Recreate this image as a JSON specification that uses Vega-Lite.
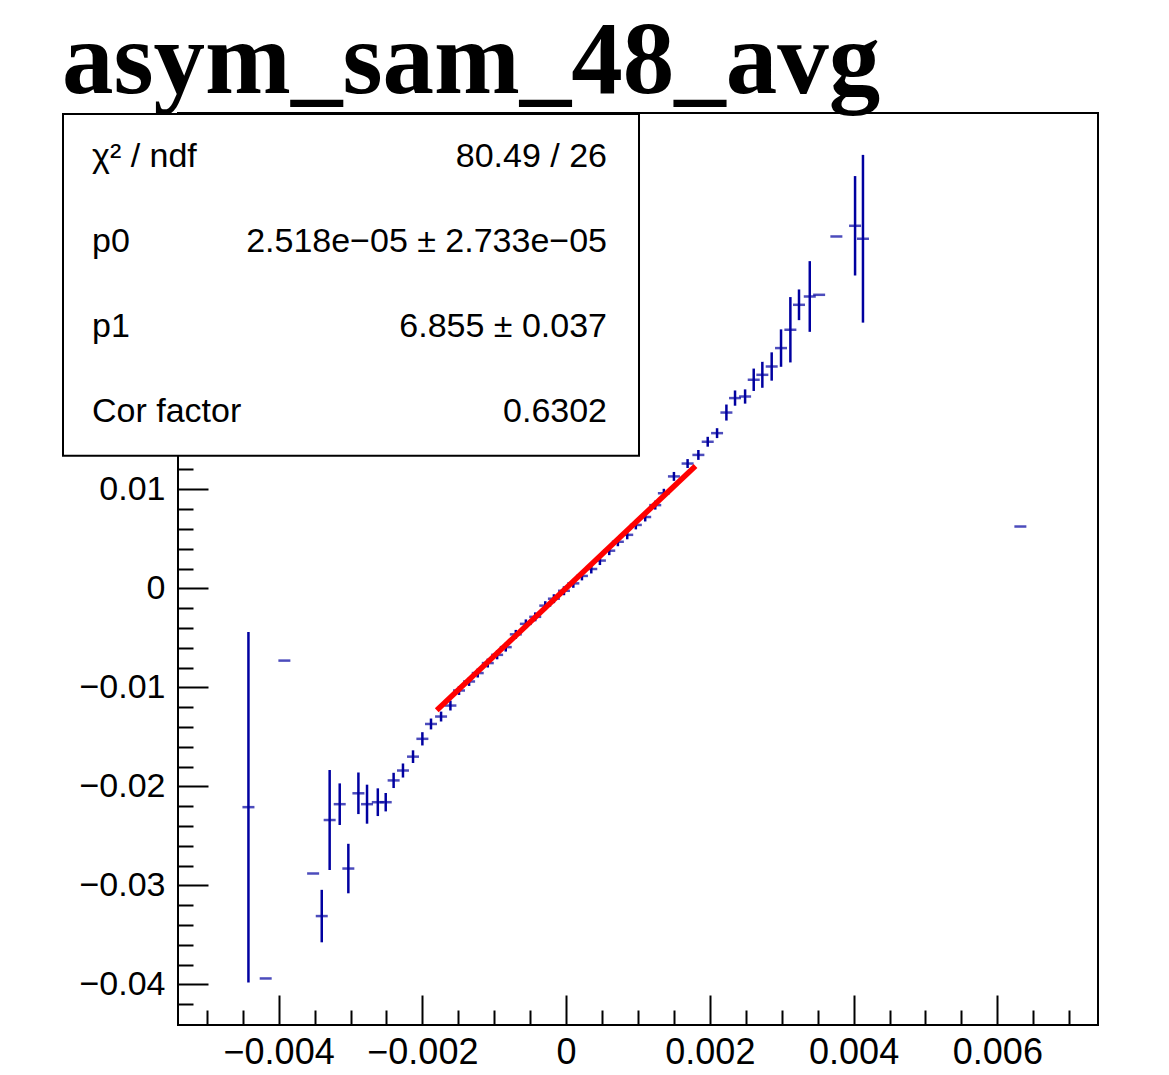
{
  "$schema": "https://vega.github.io/schema/vega-lite/v6.json",
  "width": 920,
  "height": 912,
  "autosize": {"type": "none"},
  "padding": {"left": 178, "top": 113, "right": 71, "bottom": 50},
  "background": "white",
  "config": {
    "view": {"stroke": "black", "strokeWidth": 2},
    "font": "Liberation Sans",
    "axis": {"grid": false, "domain": false, "title": null, "tickColor": "black", "tickWidth": 2, "labelColor": "black", "labelFont": "Liberation Sans", "labelFontSize": 34},
    "axisX": {"labelFontSize": 36}
  },
  "title": {"text": "asym_sam_48_avg", "font": "Liberation Serif", "fontSize": 103, "fontWeight": "bold", "anchor": "start", "frame": "bounds", "baseline": "alphabetic", "offset": 21, "dy": 104, "color": "black"},
  "datasets": {
    "points": [
      {"x": -0.00442, "y": -0.0221, "ey": 0.0177},
      {"x": -0.00418, "y": -0.0394, "ey": 0},
      {"x": -0.00392, "y": -0.0073, "ey": 0},
      {"x": -0.00352, "y": -0.0288, "ey": 0},
      {"x": -0.0034, "y": -0.0331, "ey": 0.00265},
      {"x": -0.00329, "y": -0.0234, "ey": 0.00505},
      {"x": -0.00315, "y": -0.0218, "ey": 0.0021},
      {"x": -0.00303, "y": -0.0283, "ey": 0.0025},
      {"x": -0.00289, "y": -0.0207, "ey": 0.0021},
      {"x": -0.00277, "y": -0.0218, "ey": 0.00197},
      {"x": -0.00262, "y": -0.0216, "ey": 0.0014},
      {"x": -0.00251, "y": -0.0216, "ey": 0.00093},
      {"x": -0.0024, "y": -0.0194, "ey": 0.00077},
      {"x": -0.00227, "y": -0.0184, "ey": 0.00071},
      {"x": -0.00213, "y": -0.017, "ey": 0.00064},
      {"x": -0.002, "y": -0.0152, "ey": 0.00067},
      {"x": -0.00188, "y": -0.0137, "ey": 0.00055},
      {"x": -0.00174, "y": -0.01295, "ey": 0.0005},
      {"x": -0.00161, "y": -0.01184, "ey": 0.0005},
      {"x": -0.00149, "y": -0.01032, "ey": 0.00045},
      {"x": -0.00135, "y": -0.00941, "ey": 0.00045},
      {"x": -0.00123, "y": -0.00856, "ey": 0.00045},
      {"x": -0.00109, "y": -0.00755, "ey": 0.00045},
      {"x": -0.00096, "y": -0.00672, "ey": 0.00045},
      {"x": -0.00084, "y": -0.00594, "ey": 0.00045},
      {"x": -0.0007, "y": -0.00465, "ey": 0.00045},
      {"x": -0.00056, "y": -0.00359, "ey": 0.00045},
      {"x": -0.00043, "y": -0.00288, "ey": 0.00045},
      {"x": -0.00029, "y": -0.00175, "ey": 0.00045},
      {"x": -0.00017, "y": -0.00105, "ey": 0.00045},
      {"x": -0.00003, "y": -0.00025, "ey": 0.00045},
      {"x": 0.0001, "y": 0.0005, "ey": 0.00045},
      {"x": 0.00022, "y": 0.00125, "ey": 0.00045},
      {"x": 0.00035, "y": 0.00195, "ey": 0.00045},
      {"x": 0.00047, "y": 0.0028, "ey": 0.00045},
      {"x": 0.0006, "y": 0.0038, "ey": 0.00045},
      {"x": 0.00072, "y": 0.0047, "ey": 0.00045},
      {"x": 0.00085, "y": 0.0054, "ey": 0.00045},
      {"x": 0.00097, "y": 0.0064, "ey": 0.00045},
      {"x": 0.0011, "y": 0.0072, "ey": 0.00045},
      {"x": 0.00124, "y": 0.0084, "ey": 0.00045},
      {"x": 0.00136, "y": 0.0096, "ey": 0.00045},
      {"x": 0.0015, "y": 0.0113, "ey": 0.00045},
      {"x": 0.00169, "y": 0.0126, "ey": 0.00045},
      {"x": 0.00184, "y": 0.01347, "ey": 0.0005},
      {"x": 0.00197, "y": 0.0148, "ey": 0.0005},
      {"x": 0.0021, "y": 0.01567, "ey": 0.0005},
      {"x": 0.00223, "y": 0.01775, "ey": 0.00081},
      {"x": 0.00235, "y": 0.01921, "ey": 0.00077},
      {"x": 0.00249, "y": 0.01937, "ey": 0.00072},
      {"x": 0.00261, "y": 0.02106, "ey": 0.00113},
      {"x": 0.00273, "y": 0.02156, "ey": 0.00131},
      {"x": 0.00286, "y": 0.0224, "ey": 0.00143},
      {"x": 0.00299, "y": 0.02426, "ey": 0.00189},
      {"x": 0.00312, "y": 0.02611, "ey": 0.0033},
      {"x": 0.00324, "y": 0.02863, "ey": 0.00155},
      {"x": 0.00339, "y": 0.02947, "ey": 0.00357},
      {"x": 0.00352, "y": 0.02964, "ey": 0},
      {"x": 0.00376, "y": 0.03553, "ey": 0},
      {"x": 0.00402, "y": 0.03661, "ey": 0.00502},
      {"x": 0.00413, "y": 0.0353, "ey": 0.00847},
      {"x": 0.00632, "y": 0.00624, "ey": 0}
    ],
    "fit": [
      {"x": -0.0018, "y": -0.01231},
      {"x": 0.0018, "y": 0.01236}
    ]
  },
  "resolve": {"axis": {"x": "independent", "y": "independent"}},
  "layer": [
    {
      "data": {"name": "points"},
      "mark": {"type": "errorbar", "color": "#0000a0", "thickness": 2.5},
      "encoding": {
        "x": {"field": "x", "type": "quantitative", "scale": {"domain": [-0.0054, 0.0074], "nice": false, "zero": false}, "axis": null},
        "y": {"field": "y", "type": "quantitative", "scale": {"domain": [-0.0441, 0.048], "nice": false, "zero": false}, "axis": null},
        "yError": {"field": "ey"}
      }
    },
    {
      "data": {"name": "points"},
      "mark": {"type": "tick", "orient": "horizontal", "size": 12, "thickness": 2.5, "color": "#0000a0"},
      "encoding": {
        "x": {"field": "x", "type": "quantitative", "scale": {"domain": [-0.0054, 0.0074], "nice": false, "zero": false},
              "axis": {"orient": "bottom", "values": [-0.004, -0.002, 0, 0.002, 0.004, 0.006], "format": ".3~f", "tickSize": -30, "labelPadding": 40}},
        "y": {"field": "y", "type": "quantitative", "scale": {"domain": [-0.0441, 0.048], "nice": false, "zero": false},
              "axis": {"orient": "left", "values": [-0.04, -0.03, -0.02, -0.01, 0, 0.01], "format": ".2~f", "tickSize": -30, "labelPadding": 43}}
      }
    },
    {
      "data": {"name": "fit"},
      "mark": {"type": "line", "color": "#ff0000", "strokeWidth": 5.5},
      "encoding": {
        "x": {"field": "x", "type": "quantitative", "scale": {"domain": [-0.0054, 0.0074], "nice": false, "zero": false},
              "axis": {"orient": "bottom", "values": [-0.005, -0.0045, -0.0035, -0.003, -0.0025, -0.0015, -0.001, -0.0005, 0.0005, 0.001, 0.0015, 0.0025, 0.003, 0.0035, 0.0045, 0.005, 0.0055, 0.0065, 0.007], "labels": false, "tickSize": -15}},
        "y": {"field": "y", "type": "quantitative", "scale": {"domain": [-0.0441, 0.048], "nice": false, "zero": false},
              "axis": {"orient": "left", "values": [-0.042, -0.038, -0.036, -0.034, -0.032, -0.028, -0.026, -0.024, -0.022, -0.018, -0.016, -0.014, -0.012, -0.008, -0.006, -0.004, -0.002, 0.002, 0.004, 0.006, 0.008, 0.012], "labels": false, "tickSize": -15}}
      }
    },
    {
      "data": {"values": [{}]},
      "mark": {"type": "rect", "fill": "white", "stroke": "black", "strokeWidth": 2},
      "encoding": {
        "x": {"datum": -0.007, "type": "quantitative", "axis": null},
        "x2": {"datum": 0.001014},
        "y": {"datum": 0.0479, "type": "quantitative", "axis": null},
        "y2": {"datum": 0.01338}
      }
    },
    {
      "data": {"values": [{"name": "χ² / ndf", "value": "80.49 / 26"}]},
      "encoding": {"y": {"datum": 0.04358, "type": "quantitative", "axis": null}},
      "layer": [
        {"mark": {"type": "text", "align": "left", "baseline": "middle", "fontSize": 34, "font": "Liberation Sans", "color": "black"},
         "encoding": {"x": {"datum": -0.006596, "type": "quantitative", "axis": null}, "text": {"field": "name"}}},
        {"mark": {"type": "text", "align": "right", "baseline": "middle", "fontSize": 34, "font": "Liberation Sans", "color": "black"},
         "encoding": {"x": {"datum": 0.000569, "type": "quantitative", "axis": null}, "text": {"field": "value"}}}
      ]
    },
    {
      "data": {"values": [{"name": "p0", "value": "2.518e−05 ± 2.733e−05"}]},
      "encoding": {"y": {"datum": 0.03499, "type": "quantitative", "axis": null}},
      "layer": [
        {"mark": {"type": "text", "align": "left", "baseline": "middle", "fontSize": 34, "font": "Liberation Sans", "color": "black"},
         "encoding": {"x": {"datum": -0.006596, "type": "quantitative", "axis": null}, "text": {"field": "name"}}},
        {"mark": {"type": "text", "align": "right", "baseline": "middle", "fontSize": 34, "font": "Liberation Sans", "color": "black"},
         "encoding": {"x": {"datum": 0.000569, "type": "quantitative", "axis": null}, "text": {"field": "value"}}}
      ]
    },
    {
      "data": {"values": [{"name": "p1", "value": "6.855 ± 0.037"}]},
      "encoding": {"y": {"datum": 0.02641, "type": "quantitative", "axis": null}},
      "layer": [
        {"mark": {"type": "text", "align": "left", "baseline": "middle", "fontSize": 34, "font": "Liberation Sans", "color": "black"},
         "encoding": {"x": {"datum": -0.006596, "type": "quantitative", "axis": null}, "text": {"field": "name"}}},
        {"mark": {"type": "text", "align": "right", "baseline": "middle", "fontSize": 34, "font": "Liberation Sans", "color": "black"},
         "encoding": {"x": {"datum": 0.000569, "type": "quantitative", "axis": null}, "text": {"field": "value"}}}
      ]
    },
    {
      "data": {"values": [{"name": "Cor factor", "value": "0.6302"}]},
      "encoding": {"y": {"datum": 0.01783, "type": "quantitative", "axis": null}},
      "layer": [
        {"mark": {"type": "text", "align": "left", "baseline": "middle", "fontSize": 34, "font": "Liberation Sans", "color": "black"},
         "encoding": {"x": {"datum": -0.006596, "type": "quantitative", "axis": null}, "text": {"field": "name"}}},
        {"mark": {"type": "text", "align": "right", "baseline": "middle", "fontSize": 34, "font": "Liberation Sans", "color": "black"},
         "encoding": {"x": {"datum": 0.000569, "type": "quantitative", "axis": null}, "text": {"field": "value"}}}
      ]
    }
  ]
}
